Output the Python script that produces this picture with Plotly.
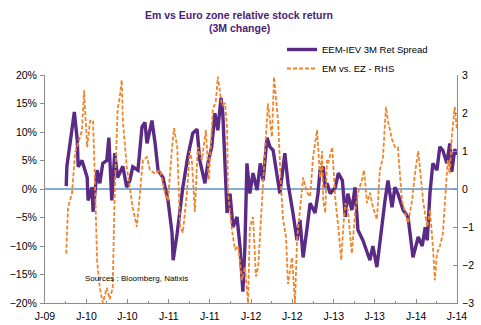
import plotly.graph_objects as go

# ---- data ----
spread_dates = [
    "2009-10-03", "2009-10-06", "2009-10-20", "2009-11-08", "2009-11-21", "2009-11-25", "2009-12-12",
    "2010-01-04", "2010-01-08", "2010-01-26", "2010-01-30", "2010-02-17", "2010-03-01", "2010-03-14",
    "2010-04-01", "2010-04-10", "2010-04-23", "2010-05-06", "2010-05-19", "2010-06-11", "2010-06-28",
    "2010-07-12", "2010-07-25", "2010-08-17", "2010-09-04", "2010-09-17", "2010-09-26", "2010-10-18",
    "2010-11-01", "2010-11-14", "2010-12-06", "2010-12-28", "2011-01-15", "2011-01-20", "2011-02-07",
    "2011-02-20", "2011-03-04", "2011-03-26", "2011-04-04", "2011-04-17", "2011-05-06", "2011-05-18",
    "2011-06-10", "2011-06-23", "2011-07-10", "2011-07-24", "2011-08-06", "2011-08-20", "2011-08-28",
    "2011-09-07", "2011-09-16", "2011-09-29", "2011-10-12", "2011-10-30", "2011-11-12", "2011-11-25",
    "2011-12-04", "2011-12-13", "2011-12-26", "2012-01-09", "2012-01-27", "2012-02-10", "2012-02-23",
    "2012-03-11", "2012-03-24", "2012-04-07", "2012-04-24", "2012-05-07", "2012-05-29", "2012-06-12",
    "2012-07-04", "2012-07-22", "2012-08-04", "2012-08-18", "2012-09-05", "2012-09-18", "2012-10-10",
    "2012-10-23", "2012-11-01", "2012-11-15", "2012-11-24", "2012-12-02", "2012-12-16", "2013-01-08",
    "2013-01-21", "2013-02-08", "2013-02-21", "2013-03-04", "2013-03-22", "2013-04-05", "2013-04-18",
    "2013-05-10", "2013-06-10", "2013-06-23", "2013-07-11", "2013-07-24", "2013-08-16", "2013-08-29",
    "2013-09-16", "2013-09-29", "2013-10-12", "2013-11-04", "2013-11-26", "2013-12-18", "2014-01-10",
    "2014-01-28", "2014-02-10", "2014-02-19", "2014-03-03", "2014-03-16", "2014-04-03", "2014-04-16",
    "2014-04-29", "2014-05-17", "2014-05-30", "2014-06-08", "2014-06-21", "2014-06-30",
]
spread_pct = [
    0.5, 4.0, 8.0, 13.5, 8.6, 3.9, 5.0,
    2.0, -2.0, 0.3, -4.0, 3.3, 1.0, 4.5,
    5.0, 9.0, -2.0, 6.3, 2.0, 4.0, 0.3,
    1.5, 3.9, 3.3, 10.9, 11.7, 8.0, 12.0,
    8.0, 3.3, 2.0, -2.0, -7.7, -12.5, -7.7,
    -3.7, 0.3, 5.7, 7.4, 9.8, 10.5, 5.0,
    1.0, 4.5, 7.4, 13.3, 10.3, 16.0, 13.3,
    5.0, -4.2, -0.8, -6.7, -4.9, -10.0, -18.0,
    -10.0, 4.5, -0.8, 2.8, -0.2, 4.5, 1.5,
    9.0, 7.4, 6.8, 2.0, -0.8, 6.3, 1.0,
    -4.2, -9.0, -5.4, -12.0, -6.7, -2.5, -4.2,
    -0.8, 3.3, 3.9, 0.3, 1.0, -0.8, 0.3,
    2.8, 1.5, -4.9, -0.8, -3.7, 0.3, -7.2,
    -9.0, -12.5, -10.0, -13.7, -9.0, -2.0, 1.5,
    -3.2, 0.3, -0.8, -3.7, -4.9, -12.0, -8.4,
    -10.0, -6.7, -9.0, -0.8, 4.5, 3.3, 7.4,
    6.8, 4.5, 8.0, 3.0, 7.0, 6.0,
]

rel_dates = [
    "2009-10-03", "2009-10-11", "2009-10-29", "2009-11-11", "2009-11-25", "2009-12-12", "2009-12-21",
    "2010-01-04", "2010-01-17", "2010-01-30", "2010-02-08", "2010-02-17", "2010-03-01", "2010-03-14",
    "2010-04-01", "2010-04-14", "2010-04-27", "2010-05-06", "2010-05-19", "2010-05-28", "2010-06-06",
    "2010-06-11", "2010-06-28", "2010-07-12", "2010-07-25", "2010-08-12", "2010-08-25", "2010-09-08",
    "2010-09-26", "2010-10-09", "2010-11-01", "2010-11-23", "2010-12-15", "2010-12-28", "2011-01-15",
    "2011-01-24", "2011-02-07", "2011-02-20", "2011-03-04", "2011-03-22", "2011-04-04", "2011-04-13",
    "2011-04-26", "2011-05-09", "2011-05-27", "2011-06-14", "2011-06-27", "2011-07-15", "2011-07-28",
    "2011-08-06", "2011-08-24", "2011-09-07", "2011-09-16", "2011-09-20", "2011-10-08", "2011-10-21",
    "2011-11-04", "2011-11-21", "2011-12-04", "2011-12-18", "2011-12-26", "2012-01-09", "2012-01-22",
    "2012-02-01", "2012-02-18", "2012-03-02", "2012-03-15", "2012-04-02", "2012-04-11", "2012-04-24",
    "2012-04-29", "2012-05-12", "2012-05-21", "2012-06-03", "2012-06-12", "2012-06-30", "2012-07-13",
    "2012-07-22", "2012-08-04", "2012-08-18", "2012-09-05", "2012-09-18", "2012-10-01", "2012-10-19",
    "2012-11-01", "2012-11-10", "2012-11-15", "2012-11-24", "2012-12-02", "2012-12-07", "2012-12-25",
    "2013-01-08", "2013-01-21", "2013-02-03", "2013-02-12", "2013-02-21", "2013-03-04", "2013-03-22",
    "2013-04-05", "2013-04-18", "2013-05-06", "2013-05-15", "2013-05-28", "2013-06-10", "2013-06-23",
    "2013-07-11", "2013-07-24", "2013-08-07", "2013-08-20", "2013-08-29", "2013-09-16", "2013-09-29",
    "2013-10-12", "2013-10-30", "2013-11-13", "2013-11-26", "2013-12-14", "2013-12-27", "2014-01-10",
    "2014-01-19", "2014-02-02", "2014-02-19", "2014-03-03", "2014-03-16", "2014-03-25", "2014-04-03",
    "2014-04-16", "2014-04-29", "2014-05-08", "2014-05-21", "2014-05-30", "2014-06-08", "2014-06-21",
    "2014-06-30",
]
rel_values = [
    -1.7, -0.5, -0.1, 0.95, 1.2, 1.55, 2.6,
    1.1, 1.8, 1.8, 0.05, -1.9, -2.6, -3.0,
    -2.6, -2.9, -2.6, -0.1, 2.1, 2.4, 2.87,
    1.8, 0.6, 0.05, -0.5, -1.0, -0.2, 0.76,
    0.84, 0.5, 0.4, 0.5, -0.1, -0.3, 1.1,
    1.6, 1.1, -1.0, -1.15, -0.1, 1.0, 0.76,
    -0.6, 1.1, 0.76, 1.55, 0.24, 2.1, 2.3,
    2.95, 2.2, 2.25, 1.6, -0.1, -1.1, -1.6,
    -1.5, -2.4, -2.05, -3.0, -1.0, -0.74, -2.3,
    -2.05, -0.3, 1.1, 2.25, 1.37, 2.95, 2.1,
    1.8, 0.05, -0.8, -1.26, -2.5, -1.8, -3.0,
    -1.34, -0.63, 0.3, -0.1, -0.2, 0.84, 1.55,
    0.3, 1.0, -0.3, -0.63, 0.76, 0.68, 1.1,
    -0.3, -1.0, -1.87, -1.0, -0.37, -0.55, -1.7,
    -0.63, -0.1, 0.24, 0.5, -0.37, -0.1, -0.47,
    -0.8, 0.5, 0.84, 2.16, 1.8, 1.3, 1.1,
    1.1, -0.3, -0.63, -0.9, -0.3, 0.42, 1.0,
    0.42, -0.37, -1.0, -0.55, -1.5, -2.4, -1.7,
    -1.5, -1.2, -0.4, 0.76, 0.4, 1.37, 2.16,
    1.6,
]

tick_dates = ["2009-07-01", "2010-01-01", "2010-07-01", "2011-01-01", "2011-07-01", "2012-01-01",
              "2012-07-01", "2013-01-01", "2013-07-01", "2014-01-01", "2014-07-01"]
tick_labels = ["J-09", "J-10", "J-10", "J-11", "J-11", "J-12", "J-12", "J-13", "J-13", "J-14", "J-14"]

left_ticks = [-0.20, -0.15, -0.10, -0.05, 0.0, 0.05, 0.10, 0.15, 0.20]
right_ticks = [-3, -2, -1, 0, 1, 2, 3]

PURPLE = "#5a2a85"
ORANGE = "#f0842a"
AXIS = "#8c8c8c"
TITLE_C = "#4b2177"
FONT = "Liberation Sans, Arial, sans-serif"

# plot area in pixels: left 45, right 457, top 75, bottom 303
PT, PB = 75, 303


def py(pix):
    return (PB - pix) / (PB - PT)


fig = go.Figure()
fig.add_trace(go.Scatter(
    x=spread_dates, y=[v / 100 for v in spread_pct], mode="lines",
    name="EEM-IEV 3M Ret Spread",
    line=dict(color=PURPLE, width=3.4), yaxis="y",
))
fig.add_trace(go.Scatter(
    x=rel_dates, y=rel_values, mode="lines",
    name="EM vs. EZ - RHS",
    line=dict(color=ORANGE, width=1.8, dash="4px,2px"), yaxis="y2",
))

fig.update_layout(
    width=481, height=325,
    margin=dict(l=45, r=24, t=75, b=22, autoexpand=False),
    paper_bgcolor="white", plot_bgcolor="white",
    font=dict(family=FONT, size=10.5, color="#000000"),
    showlegend=True,
    legend=dict(
        x=(282 - 45) / 412, y=py(35), xanchor="left", yanchor="top",
        bgcolor="rgba(0,0,0,0)", font=dict(size=9.5, family=FONT),
        tracegroupgap=0, itemwidth=30,
    ),
    xaxis=dict(
        type="date", range=["2009-07-01", "2014-07-01"], automargin=False,
        tickmode="array", tickvals=tick_dates, ticktext=tick_labels,
        showline=True, linecolor=AXIS, linewidth=1,
        ticks="inside", ticklen=4, tickcolor=AXIS, ticklabelstandoff=3,
        minor=dict(dtick="M3", ticks="inside", ticklen=2, tickcolor=AXIS, tick0="2009-07-01"),
        showgrid=False, zeroline=False, tickfont=dict(size=10.5),
    ),
    yaxis=dict(
        range=[-0.2, 0.2], tickmode="array", tickvals=left_ticks, tickformat=".0%", automargin=False,
        showline=True, linecolor=AXIS, linewidth=1,
        ticks="outside", ticklen=4, tickcolor=AXIS, ticklabelstandoff=1,
        showgrid=False, zeroline=False, tickfont=dict(size=10.5),
    ),
    yaxis2=dict(
        range=[-3, 3], tickmode="array", tickvals=right_ticks, overlaying="y", side="right",
        automargin=False,
        showline=True, linecolor=AXIS, linewidth=1,
        ticks="inside", ticklen=4, tickcolor=AXIS, ticklabelstandoff=2,
        showgrid=False, zeroline=False, tickfont=dict(size=10.5),
    ),
    shapes=[dict(type="line", xref="paper", x0=0, x1=1, yref="y", y0=0, y1=0,
                 line=dict(color="#86acd8", width=1.8), layer="below")],
    annotations=[
        dict(text="<b>Em vs Euro zone relative stock return</b>", xref="paper", yref="paper",
             x=(239 - 45) / 412, y=py(15), xanchor="center", yanchor="middle", showarrow=False,
             font=dict(size=10.5, family=FONT, color=TITLE_C)),
        dict(text="<b>(3M change)</b>", xref="paper", yref="paper",
             x=(239 - 45) / 412, y=py(28), xanchor="center", yanchor="middle", showarrow=False,
             font=dict(size=10.5, family=FONT, color=TITLE_C)),
        dict(text="Sources : Bloomberg, Natixis", xref="paper", yref="paper",
             x=(83 - 45) / 412, y=py(278), xanchor="left", yanchor="middle",
             showarrow=False, font=dict(size=8, family=FONT, color="#000000")),
    ],
)

fig.write_html("out.html")
